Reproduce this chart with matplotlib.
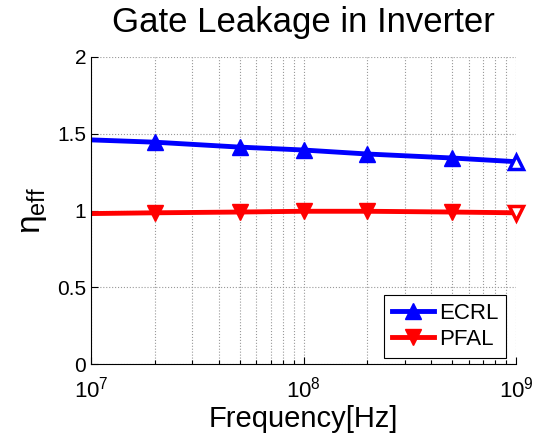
import matplotlib.pyplot as plt
import numpy as np

plt.rcParams['font.family'] = ['Liberation Sans', 'DejaVu Sans']
plt.rcParams['mathtext.fontset'] = 'custom'
plt.rcParams['mathtext.rm'] = 'Liberation Sans'
plt.rcParams['mathtext.it'] = 'Liberation Sans'

freq = [1e7, 2e7, 5e7, 1e8, 2e8, 5e8, 1e9]
ecrl = [1.46, 1.445, 1.413, 1.394, 1.368, 1.342, 1.318]
pfal = [0.98, 0.985, 0.99, 0.995, 0.995, 0.99, 0.985]

fig = plt.figure(figsize=(5.35, 4.33), dpi=100)
ax = fig.add_axes([91/535, 1 - 364/433, (516 - 91)/535, (364 - 57)/433])

ax.plot(freq, ecrl, 'b-^', lw=3.5, ms=11, markevery=range(1, 6), label='ECRL')
ax.plot(freq, pfal, 'r-v', lw=3.5, ms=11, markevery=range(1, 6), label='PFAL')
# end points drawn as open markers
ax.plot(freq[-1], ecrl[-1], '^', color='b', mfc='white', mew=2.5, ms=10, clip_on=False)
ax.plot(freq[-1], pfal[-1], 'v', color='r', mfc='white', mew=2.5, ms=10, clip_on=False)

ax.set_xscale('log')
ax.set_xlim(1e7, 1e9)
ax.set_ylim(0, 2)
ax.set_yticks([0, 0.5, 1, 1.5, 2])
ax.set_yticklabels(['0', '0.5', '1', '1.5', '2'])

ax.grid(True, which='both', axis='x', ls=':', color='#999999', lw=0.8)
ax.grid(True, which='major', axis='y', ls=':', color='#999999', lw=0.8)
ax.spines['top'].set_visible(False)
ax.spines['right'].set_visible(False)
ax.tick_params(which='both', direction='in', labelsize=15, width=0.8)
ax.tick_params(axis='x', which='major', labelsize=16, pad=9)
ax.tick_params(which='major', length=5)
ax.tick_params(which='minor', length=3)

ax.set_title('Gate Leakage in Inverter', fontsize=25, pad=18)
ax.set_xlabel('Frequency[Hz]', fontsize=21, labelpad=2)
ax.set_ylabel(r'$\eta_{\mathrm{eff}}$', fontsize=24, labelpad=6)

leg = ax.legend(loc='lower right', bbox_to_anchor=(0.976, 0.02), borderaxespad=0,
                fontsize=16, handlelength=1.9, handletextpad=0.2,
                fancybox=False, framealpha=1, edgecolor='black',
                borderpad=0.35, labelspacing=0.25)
leg.get_frame().set_linewidth(0.8)

fig.savefig('out.png', dpi=100)
